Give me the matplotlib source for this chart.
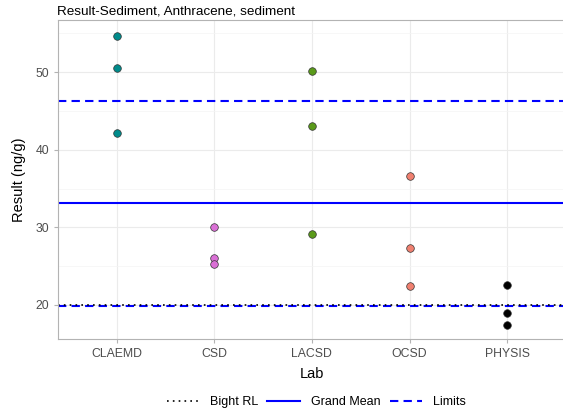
import matplotlib
matplotlib.use("Agg")
from matplotlib import pyplot as plt
from matplotlib.lines import Line2D

plt.rcParams["font.family"] = ["Liberation Sans", "DejaVu Sans"]

# Data
labs = ["CLAEMD", "CSD", "LACSD", "OCSD", "PHYSIS"]
results = {
    "CLAEMD": [54.7, 50.5, 42.1],
    "CSD": [30.1, 26.0, 25.3],
    "LACSD": [50.2, 43.0, 29.2],
    "OCSD": [36.6, 27.3, 22.4],
    "PHYSIS": [22.6, 19.0, 17.4],
}
lab_colors = ["#008B8B", "#DA70D6", "#5A9A1A", "#F08070", "#000000"]
grand_mean = 33.1
upper_limit = 46.3
lower_limit = 19.9
bight_rl = 20.0

fig = plt.figure(figsize=(5.63, 4.12), dpi=100, facecolor="white")
# panel runs slightly past the right edge, as in the reference crop
ax = fig.add_axes([0.103, 0.177, 0.902, 0.774])

for i, lab in enumerate(labs):
    vals = results[lab]
    ax.scatter([i + 1] * len(vals), vals, s=30, c=lab_colors[i],
               edgecolors="#333333", linewidths=0.5, zorder=3)

dash = (0, (4, 2.5))
ax.axhline(grand_mean, color="#0000FF", lw=1.5, zorder=2)
ax.axhline(upper_limit, color="#0000FF", lw=1.5, ls=dash, zorder=2)
ax.axhline(lower_limit, color="#0000FF", lw=1.5, ls=dash, zorder=2)
ax.axhline(bight_rl, color="black", lw=1.2, ls=(0, (1, 2.5)), zorder=2)

ax.set_xlim(0.4, 5.6)
ax.set_ylim(15.6, 56.7)
ax.set_xticks(range(1, len(labs) + 1))
ax.set_xticklabels(labs)
ax.set_yticks([20, 30, 40, 50])
ax.set_yticks([25, 35, 45, 55], minor=True)
ax.grid(True, which="major", color="#EBEBEB", lw=0.8)
ax.grid(True, which="minor", axis="y", color="#F4F4F4", lw=0.5)
ax.set_axisbelow(True)
for s in ax.spines.values():
    s.set_color("#B3B3B3")
ax.spines["right"].set_visible(False)
ax.tick_params(axis="both", colors="#B3B3B3", labelcolor="#4D4D4D",
               labelsize=8.8, length=3)
ax.tick_params(which="minor", length=0)
ax.set_xlabel("Lab", fontsize=10.5, labelpad=5)
ax.set_ylabel("Result (ng/g)", fontsize=10.5, labelpad=7)
ax.set_title("Result-Sediment, Anthracene, sediment", fontsize=9.7,
             loc="left", x=-0.002, pad=4)

handles = [
    Line2D([], [], color="black", lw=1.2, ls=(0, (1, 2.5))),
    Line2D([], [], color="#0000FF", lw=1.5),
    Line2D([], [], color="#0000FF", lw=1.5, ls=dash),
]
fig.legend(handles, ["Bight RL", "Grand Mean", "Limits"], loc="lower center",
           ncol=3, frameon=False, fontsize=9, bbox_to_anchor=(0.562, -0.018),
           handlelength=2.6, columnspacing=0.7, handletextpad=0.9)

fig.savefig("out.png", dpi=100)
